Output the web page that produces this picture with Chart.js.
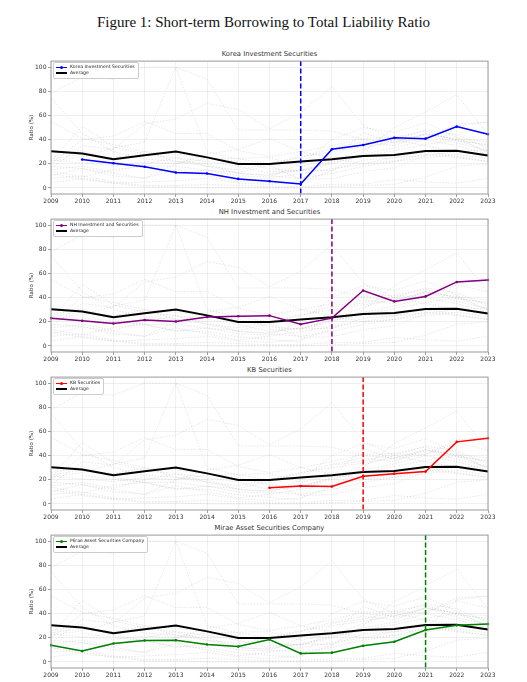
<!DOCTYPE html>
<html>
<head>
<meta charset="utf-8">
<script src="https://cdn.jsdelivr.net/npm/chart.js@4.4.1/dist/chart.umd.min.js"></script>
<style>
  body { margin: 0; background: #fff; width: 527px; height: 682px; position: relative; overflow: hidden; font-family: "DejaVu Sans", sans-serif; }
  #figTitle { position: absolute; top: 15px; left: 0; width: 527px; text-align: center; font-family: "Liberation Serif", serif; font-size: 15px; line-height: 1; color: #111; }
  .panel { position: absolute; left: 0; width: 527px; height: 152px; }
  .ptitle { position: absolute; left: 51px; width: 437px; text-align: center; font-size: 6.8px; line-height: 1; color: #333; }
  .legend { position: absolute; left: 53px; background: rgba(255,255,255,0.85); border: 0.8px solid #ccc; border-radius: 2px; padding: 1px 3px 1px 2px; font-size: 4.6px; line-height: 6.3px; color: #222; }
  .legend .row { white-space: nowrap; display: flex; align-items: center; }
  .legend .sample { position: relative; display: inline-block; width: 11px; margin-right: 3px; }
  .legend .sample i { position: absolute; left: 4px; top: -1.6px; width: 3px; height: 3px; border-radius: 50%; }
</style>
</head>
<body>
<div id="figTitle">Figure 1: Short-term Borrowing to Total Liability Ratio</div>
<div id="content"></div>
<script>
// years on the x axis
const years = [2009, 2010, 2011, 2012, 2013, 2014, 2015, 2016, 2017, 2018, 2019, 2020, 2021, 2022, 2023];
const yTicks = [0, 20, 40, 60, 80, 100];

// highlighted companies
const companies = ["Korea Investment Securities", "NH Investment and Securities", "KB Securities", "Mirae Asset Securities Company"];
const colors = ["#0000ff", "#800080", "#ff0000", "#008000"];
const eventYears = [2017, 2018, 2019, 2021];

const koreaInv = [null, 23.5, 20.5, 17.5, 12.8, 12, 7.5, 5.5, 3.3, 32, 35.5, 41.5, 40.8, 50.8, 44.5];
const nhInv = [23, 20.8, 18.6, 21.5, 20.2, 24, 24.6, 25.1, 18, 23, 45.9, 36.9, 41, 53, 54.6];
const kbSec = [null, null, null, null, null, null, null, 13.4, 14.8, 14.5, 23, 25.1, 26.8, 51.4, 54.4];
const mirae = [13.9, 9, 15.3, 17.8, 18, 14.5, 12.8, 18.6, 7.1, 7.7, 13.4, 16.7, 26.5, 30.3, 31.4];

const average = [30.4, 28.5, 23.7, 27, 30.2, 25.3, 19.9, 19.9, 21.8, 23.8, 26.4, 27.2, 30.5, 30.8, 26.8];

// other securities firms (grey dashed)
const peerA = [78, 92, 90, 100, 100, 90, 48, 48, 48, 47, 40, 38, 44, 41, 38];
const peerB = [22, 26, 33, 38, 100, 30, 24, 20, 25, 33, 38, 35, 45, 40, 30];
const peerC = [75, 45, 30, 24, 22, 18, 12, 10, 8, 12, 18, 22, 28, 25, 22];
const peerD = [55, 41, 36, 30, 28, 25, 22, 16, 14, 20, 28, 33, 40, 35, 28];
const peerE = [22, 51, 34, 28, 25, 22, 18, 12, 14, 22, 32, 40, 48, 44, 33];
const peerF = [20, 40, 43, 55, 45, 45, 31, 26, 30, 35, 41, 42, 47, 39, 36];
const peerG = [16, 35, 32, 53, 57, 70, 65, 49, 62, 84, 52, 40, 35, 30, 26];
const peerH = [8, 10, 5, 2, 2, 3, 2, 1, 1, 3, 3, 7, 5, 4, 8];
const peerI = [4, 8, 4, 1, 1, 0, 0, 0, 0, 1, 2, 3, 9, 18, 20];
const peerJ = [18, 16, 12, 8, 15, 10, 5, 8, 12, 16, 20, 22, 25, 28, 24];
const peerK = [24, 28, 25, 30, 22, 20, 12, 11, 15, 21, 26, 31, 36, 40, 35];
const peerL = [15, 18, 13, 20, 25, 18, 15, 20, 26, 30, 34, 38, 45, 37, 31];
const peerM = [10, 16, 10, 8, 20, 28, 32, 41, 30, 25, 20, 25, 30, 26, 22];
const peerN = [26, 31, 22, 18, 12, 15, 10, 9, 20, 40, 50, 46, 54, 42, 29];
const peerO = [12, 7, 4, 5, 6, 8, 4, 3, 5, 14, 30, 50, 63, 77, 44];

const companySeries = [koreaInv, nhInv, kbSec, mirae];
const greySeries = [peerA, peerB, peerC, peerD, peerE, peerF, peerG, peerH, peerI, peerJ, peerK, peerL, peerM, peerN, peerO, koreaInv, nhInv, kbSec, mirae];

// box around the plot area
const framePlugin = {
  id: "frame",
  afterDraw(chart) {
    const a = chart.chartArea;
    const ctx = chart.ctx;
    ctx.save();
    ctx.strokeStyle = "#999";
    ctx.lineWidth = 1;
    ctx.strokeRect(a.left, a.top, a.right - a.left, a.bottom - a.top);
    ctx.restore();
  }
};

// dashed vertical line at the event year
const eventLinePlugin = {
  id: "eventLine",
  afterDatasetsDraw(chart, args, opts) {
    const x = chart.scales.x.getPixelForValue(years.indexOf(opts.year));
    const a = chart.chartArea;
    const ctx = chart.ctx;
    ctx.save();
    ctx.strokeStyle = opts.color;
    ctx.lineWidth = 1.5;
    ctx.setLineDash([5, 2.5]);
    ctx.beginPath();
    ctx.moveTo(x, a.top);
    ctx.lineTo(x, a.bottom);
    ctx.stroke();
    ctx.restore();
  }
};

const content = document.getElementById("content");

companies.forEach((name, i) => {
  const plotTop = 60 + 158 * i;

  const title = document.createElement("div");
  title.className = "ptitle";
  title.style.top = (plotTop - 9) + "px";
  title.textContent = name;
  content.appendChild(title);

  const wrap = document.createElement("div");
  wrap.className = "panel";
  wrap.style.top = (plotTop - 4) + "px";
  const canvas = document.createElement("canvas");
  wrap.appendChild(canvas);
  content.appendChild(wrap);

  const datasets = [];
  datasets.push({
    label: name,
    data: companySeries[i],
    borderColor: colors[i],
    backgroundColor: colors[i],
    borderWidth: 1.5,
    pointRadius: 1.3,
    pointHoverRadius: 1.3,
    pointBorderWidth: 0,
    spanGaps: false
  });
  datasets.push({
    label: "Average",
    data: average,
    borderColor: "#000",
    borderWidth: 2,
    pointRadius: 0
  });
  greySeries.forEach((s) => {
    datasets.push({
      label: "",
      data: s,
      borderColor: "rgba(150,150,150,0.33)",
      borderWidth: 0.7,
      borderDash: [1.5, 1.5],
      pointRadius: 0
    });
  });

  new Chart(canvas, {
    type: "line",
    data: { labels: years, datasets: datasets },
    options: {
      responsive: true,
      maintainAspectRatio: false,
      animation: false,
      events: [],
      layout: { padding: { top: 4, right: 39, left: 28, bottom: 0 } },
      plugins: {
        legend: { display: false },
        tooltip: { enabled: false },
        eventLine: { year: eventYears[i], color: colors[i] }
      },
      scales: {
        x: {
          type: "category",
          offset: false,
          afterFit: (s) => { s.height = 14; },
          grid: { color: "rgba(0,0,0,0.08)", lineWidth: 0.8, tickLength: 3, tickColor: "#888", tickWidth: 0.8 },
          border: { display: false },
          ticks: { font: { family: "DejaVu Sans", size: 6 }, color: "#333", padding: 1, maxRotation: 0, autoSkip: false }
        },
        y: {
          min: -5,
          max: 105,
          afterFit: (s) => { s.width = 23; },
          afterBuildTicks: (s) => { s.ticks = yTicks.map((v) => ({ value: v })); },
          grid: { color: "rgba(0,0,0,0.08)", lineWidth: 0.8, tickLength: 3, tickColor: "#888", tickWidth: 0.8 },
          border: { display: false },
          ticks: { font: { family: "DejaVu Sans", size: 6 }, color: "#333", padding: 1.5 },
          title: { display: true, text: "Ratio (%)", font: { family: "DejaVu Sans", size: 5.5 }, color: "#333", padding: 0 }
        }
      }
    },
    plugins: [framePlugin, eventLinePlugin]
  });

  // legend, upper left inside the axes
  const legend = document.createElement("div");
  legend.className = "legend";
  legend.style.top = (plotTop + 2) + "px";
  legend.innerHTML =
    '<div class="row"><span class="sample" style="border-top:1.5px solid ' + colors[i] + '"><i style="background:' + colors[i] + '"></i></span>' + name + '</div>' +
    '<div class="row"><span class="sample" style="border-top:2px solid #000"></span>Average</div>';
  content.appendChild(legend);
});
</script>
</body>
</html>
